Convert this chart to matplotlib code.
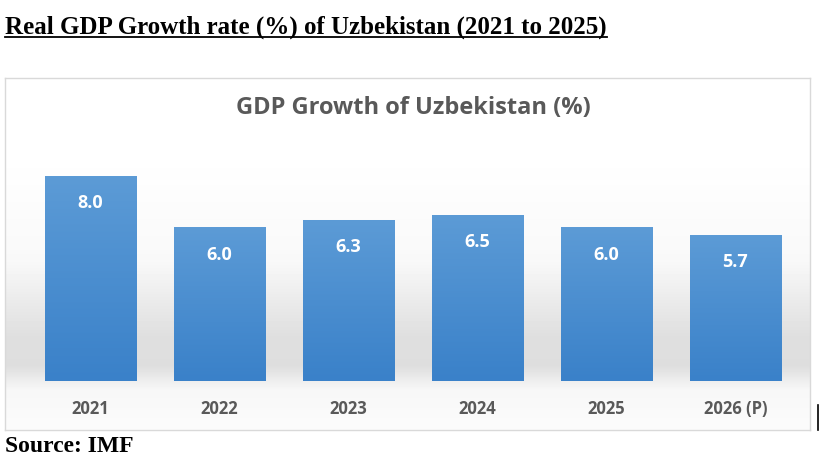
import numpy as np
import matplotlib.pyplot as plt
from matplotlib.colors import LinearSegmentedColormap

years = ["2021", "2022", "2023", "2024", "2025", "2026 (P)"]
growth = [8.0, 6.0, 6.3, 6.5, 6.0, 5.7]

W, H = 825, 468
fig = plt.figure(figsize=(W / 100, H / 100), dpi=100)
fig.patch.set_facecolor("white")

def px(x0, y0, x1, y1):
    # pixel box (top-left origin) -> figure fraction rect
    return [x0 / W, 1 - y1 / H, (x1 - x0) / W, (y1 - y0) / H]

# chart area background with soft grey band
bg = fig.add_axes(px(5, 78, 810, 430))
rows = np.arange(78, 430)
shade = np.interp(rows, [78, 150, 260, 335, 365, 390, 430],
                  [1.0, 1.0, 0.975, 0.875, 0.87, 0.97, 0.985])
grad = np.repeat(shade[:, None], 2, axis=1)
bg.imshow(grad, cmap="gray", vmin=0, vmax=1, aspect="auto",
          extent=[0, 1, 0, 1], origin="upper")
bg.set_xticks([])
bg.set_yticks([])
for s in bg.spines.values():
    s.set_color("#d9d9d9")
    s.set_linewidth(1.0)

ax = fig.add_axes(px(25.5, 150.6, 800, 381))
ax.set_facecolor("none")
x = np.arange(len(years))
bars = ax.bar(x, growth, width=0.705, color="#4a8fd3",
              edgecolor="#9cc3ea", linewidth=0.6)

# vertical gradient inside each bar
bar_grad = np.linspace(0, 1, 100)[:, None]
cmap = LinearSegmentedColormap.from_list("b", ["#5c9bd6", "#3a81c9"])
for b in bars:
    im = ax.imshow(bar_grad, cmap=cmap, aspect="auto",
                   extent=[b.get_x(), b.get_x() + b.get_width(), 0, b.get_height()],
                   origin="upper", zorder=b.get_zorder() + 0.1)
    im.set_clip_path(b)
ax.set_xlim(-0.5, len(years) - 0.5)
ax.set_ylim(0, 9)

for xi, v in zip(x, growth):
    ax.annotate(f"{v:.1f}", (xi, v), xytext=(0, -26), textcoords="offset points",
                ha="center", va="bottom", color="white", fontsize=13,
                fontweight="bold", family="Open Sans", zorder=5)

ax.set_xticks(x)
ax.set_xticklabels(years, fontsize=12, fontweight="bold", family="Open Sans",
                   color="#595959")
ax.tick_params(axis="x", length=0, pad=14)
ax.set_yticks([])
for s in ax.spines.values():
    s.set_visible(False)

fig.text(413 / W, 1 - 108 / H, "GDP Growth of Uzbekistan (%)", ha="center",
         va="center", fontsize=17, fontweight="bold", family="Open Sans",
         color="#595959")

t = fig.text(5 / W, 1 - 27 / H, "Real GDP Growth rate (%) of Uzbekistan (2021 to 2025)",
             ha="left", va="center", fontsize=18, fontweight="bold",
             family="Liberation Serif", color="black")
fig.text(5 / W, 1 - 446 / H, "Source: IMF", ha="left", va="center",
         fontsize=17, fontweight="bold", family="Liberation Serif", color="black")

# underline the heading
fig.canvas.draw()
bb = t.get_window_extent().transformed(fig.transFigure.inverted())
fig.add_artist(plt.Line2D([bb.x0, bb.x1], [bb.y0 + 2 / H, bb.y0 + 2 / H],
                          color="black", linewidth=1.3,
                          transform=fig.transFigure))

# small dark edge mark at the right of the chart box
fig.add_artist(plt.Line2D([818 / W, 818 / W], [1 - 430 / H, 1 - 405 / H],
                          color="black", linewidth=1.2,
                          transform=fig.transFigure))

fig.savefig("out.png", dpi=100)
